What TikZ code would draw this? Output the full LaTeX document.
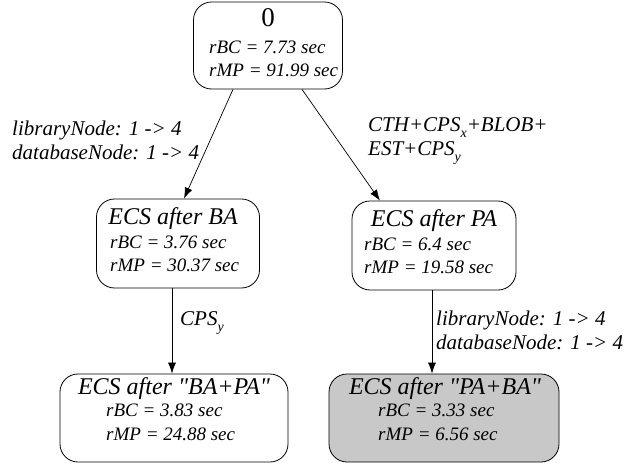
\documentclass[tikz,border=0pt]{standalone}
\usepackage{fontspec}
\setmainfont{Liberation Serif}
\usetikzlibrary{arrows.meta}
\definecolor{shade}{RGB}{200,200,200}
\newcommand\lowsub[1]{\raisebox{-0.32em}{\fontsize{14}{14}\selectfont #1}}
% straight double quote, taken by glyph name so no TeX ligature turns it curly
\newcommand\dq{\XeTeXglyph\XeTeXglyphindex "quotedbl"\relax}
\tikzset{
  box/.style={draw, rounded corners=18pt, line width=0.8pt, inner sep=0pt},
  ttl/.style={inner sep=0pt, font=\fontsize{24}{26}\selectfont\itshape},
  stat/.style={inner sep=0pt, anchor=mid west, font=\fontsize{19}{21}\selectfont\itshape},
  lbl/.style={inner sep=0pt, anchor=west, align=left, font=\fontsize{21}{24}\selectfont\itshape},
  arr/.style={-{Latex[length=11pt,width=8pt]}, line width=0.7pt},
}
\begin{document}
\begin{tikzpicture}[x=1pt, y=-1pt]
\useasboundingbox (0,0) rectangle (641,466);

% state boxes
\node[box, minimum width=149pt, minimum height=87pt] (root) at (268,45.5) {};
\node[box, minimum width=163pt, minimum height=89pt] (ba) at (178,243.5) {};
\node[box, minimum width=164pt, minimum height=89pt] (pa) at (434,245.5) {};
\node[box, minimum width=228pt, minimum height=88pt] (bapa) at (174,418) {};
\node[box, fill=shade, minimum width=230pt, minimum height=88pt] (paba) at (444,418) {};

% box contents
\node[inner sep=0pt, font=\fontsize{27}{29}\selectfont] (t0) at (268,18) {0};
\node[stat] (r0a) at (209,51) {rBC = 7.73 sec};
\node[stat] (r0b) at (209,74) {rMP = 91.99 sec};

\node[ttl] (t1) at (173,219) {ECS after BA};
\node[stat] (r1a) at (110,246) {rBC = 3.76 sec};
\node[stat] (r1b) at (110,269) {rMP = 30.37 sec};

\node[ttl] (t2) at (434,221) {ECS after PA};
\node[stat] (r2a) at (364,248) {rBC = 6.4 sec};
\node[stat] (r2b) at (364,271) {rMP = 19.58 sec};

\node[ttl] (t3) at (174,389) {ECS after \dq BA+PA\dq};
\node[stat] (r3a) at (106,414) {rBC = 3.83 sec};
\node[stat] (r3b) at (106,438) {rMP = 24.88 sec};

\node[ttl] (t4) at (445,389) {ECS after \dq PA+BA\dq};
\node[stat] (r4a) at (378,414) {rBC = 3.33 sec};
\node[stat] (r4b) at (378,438) {rMP = 6.56 sec};

% transitions
\draw[arr] ([xshift=-35pt]root.south) -- ([xshift=6pt]ba.north);
\draw[arr] ([xshift=34pt]root.south) -- ([xshift=-54pt]pa.north);
\draw[arr] ([xshift=-6pt]ba.south) -- ([xshift=-6pt]ba.south |- bapa.north);
\draw[arr] ([xshift=-2pt]pa.south) -- ([xshift=-2pt]pa.south |- paba.north);

% transition labels
\node[lbl] (l1) at (12,140) {libraryNode: 1 -> 4\\databaseNode: 1 -> 4};
\node[lbl] (l2) at (368,141) {CTH+CPS\lowsub{x}+BLOB+\\EST+CPS\lowsub{y}};
\node[lbl] (l3) at (180,323) {CPS\lowsub{y}};
\node[lbl] (l4) at (436,330) {libraryNode: 1 -> 4\\databaseNode: 1 -> 4};
\end{tikzpicture}
\end{document}
